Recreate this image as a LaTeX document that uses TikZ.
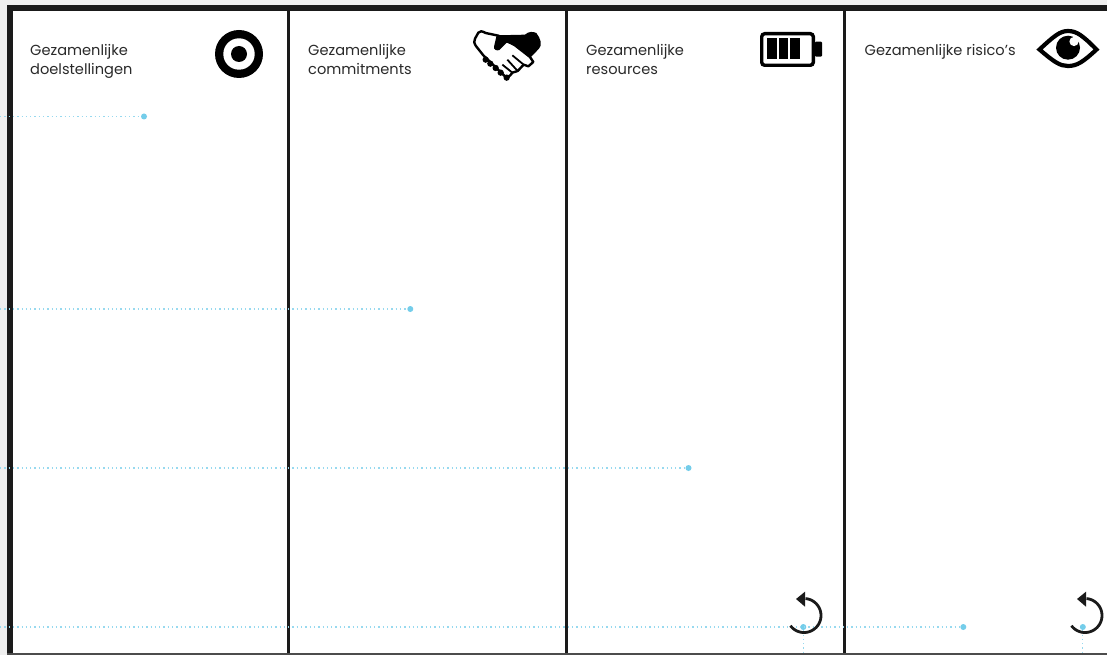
\documentclass[tikz,border=0pt]{standalone}
\usepackage{fontspec}
\setmainfont{Poppins}
\usetikzlibrary{positioning, arrows.meta}
\definecolor{barblack}{HTML}{1a1a1a}
\definecolor{pagegrey}{HTML}{efefef}
\definecolor{dotblue}{HTML}{74cdea}
\definecolor{textgrey}{HTML}{2a2a2a}

\begin{document}
\begin{tikzpicture}[
    x=1pt, y=-1pt,
    % Column heading
    heading/.style={
        anchor=north west, inner sep=0pt, align=left,
        text=textgrey, font=\fontsize{14.6}{18.6}\selectfont
    },
    % Marker at the end of a dotted line
    marker/.style={
        circle, fill=dotblue, inner sep=0pt, minimum size=6pt
    },
    % Dotted line
    dotline/.style={
        draw=dotblue!75, line width=1.3pt, dash pattern=on 1.3pt off 3pt
    },
    % Turn arrow
    turn/.style={
        draw=barblack, line width=2.8pt
    }
]
\useasboundingbox (0,0) rectangle (1107,655);

% Page and frame
\fill[pagegrey] (0,0) rectangle (1107,655);
\fill[white] (7,5) rectangle (1107,655);
\fill[barblack] (7,5) rectangle (1107,11);
\fill[barblack] (7,5) rectangle (13,655);
\fill[black!70] (7,653.4) rectangle (1107,655);
\foreach \xbar in {286.6, 564.6, 842.8} {
    \fill[barblack] (\xbar,11) rectangle ({\xbar+3.6},653.4);
}

% Headings
\node[heading] (doel) at (30,44.5) {Gezamenlijke\\doelstellingen};
\node[heading] (commit) at (308,44.5) {Gezamenlijke\\commitments};
\node[heading] (res) at (586,44.5) {Gezamenlijke\\resources};
\node[heading] (risico) at (864.5,44.5) {Gezamenlijke risico's};

% Target icon
\fill[black] (239,54) circle (24);
\fill[white] (239,54) circle (15.7);
\fill[black] (239,54) circle (8);

% Handshake icon
\begin{scope}[shift={(465,22)}, scale=0.3333]
    \draw[black, fill=white, line width=2.4pt, line join=round]
        (100,41) -- (62,33) .. controls (52,27) and (44,26) .. (40,32)
        -- (30,50) .. controls (26,58) and (27,65) .. (32,71)
        -- (55,100) -- (125,168) .. controls (135,160) and (140,158) .. (142,152)
        -- (158,147) -- (176,128) -- (190,133) -- (205,120) -- (195,105) -- (150,70) -- cycle;
    \fill[black] (95,40) -- (180,38) .. controls (190,28) and (205,28) .. (214,33)
        .. controls (228,50) and (232,70) .. (222,80) -- (196,107)
        -- (160,76) -- (125,62) -- (103,84) .. controls (95,88) and (85,82) .. (87,74) -- cycle;
    \draw[black, line width=1.8pt] (142,100) -- (176,128) (127,113) -- (158,147) (112,128) -- (142,152);
    \foreach \xk/\yk in {62/113, 76/125, 92/138, 107/152, 125/167} {
        \fill[black] (\xk,\yk) circle (9.5);
    }
\end{scope}

% Battery icon
\draw[black, line width=3.4pt, rounded corners=3pt] (761.7,33.7) rectangle (813.3,65.3);
\fill[black, rounded corners=1pt] (815,41.7) -- (822,41.7) -- (822,56.7) -- (815,56.7) -- cycle;
\foreach \xcell in {767, 778.6, 790.2} {
    \fill[black] (\xcell,38) rectangle ({\xcell+9.8},59.5);
}

% Eye icon
\draw[black, line width=4.2pt, line join=miter]
    (1039.5,49.5) .. controls (1054,36) and (1060,31) .. (1068,31)
    .. controls (1077,31) and (1083,36) .. (1096.5,49.5)
    .. controls (1083,62) and (1077,66) .. (1068,66)
    .. controls (1060,66) and (1054,62) .. (1039.5,49.5) -- cycle;
\fill[black] (1068,47.7) circle (12);
\fill[white] (1074,41.5) circle (4.6);

% Markers
\node[marker] (mark1) at (144,116.5) {};
\node[marker] (mark2) at (410.3,309) {};
\node[marker] (mark3) at (688.5,468) {};
\node[marker] (mark4) at (963.3,627) {};
\node[marker] (mark5) at (803.3,627) {};
\node[marker] (mark6) at (1082.8,627) {};
\coordinate (start1) at (0,116.5);
\coordinate (start2) at (0,309);
\coordinate (start3) at (0,468);
\coordinate (start4) at (0,627);
\coordinate (end5) at (803.3,653);
\coordinate (end6) at (1082.8,653);

% Dotted lines
\draw[dotline] (start1) -- (mark1);
\draw[dotline] (start2) -- (mark2);
\draw[dotline] (start3) -- (mark3);
\draw[dotline] (start4) -- (mark4);
\draw[dotline] (mark5) -- (end5);
\draw[dotline] (mark6) -- (end6);

% Turn arrows
\foreach \xturn in {804, 1085} {
    \draw[turn] plot[domain=143:-85, samples=40] ({\xturn+17*cos(\x)},{615.5+17*sin(\x)});
    \fill[barblack] ({\xturn-8},599) -- ({\xturn+1},591.7) -- ({\xturn+1},606.7) -- cycle;
}
\end{tikzpicture}
\end{document}
